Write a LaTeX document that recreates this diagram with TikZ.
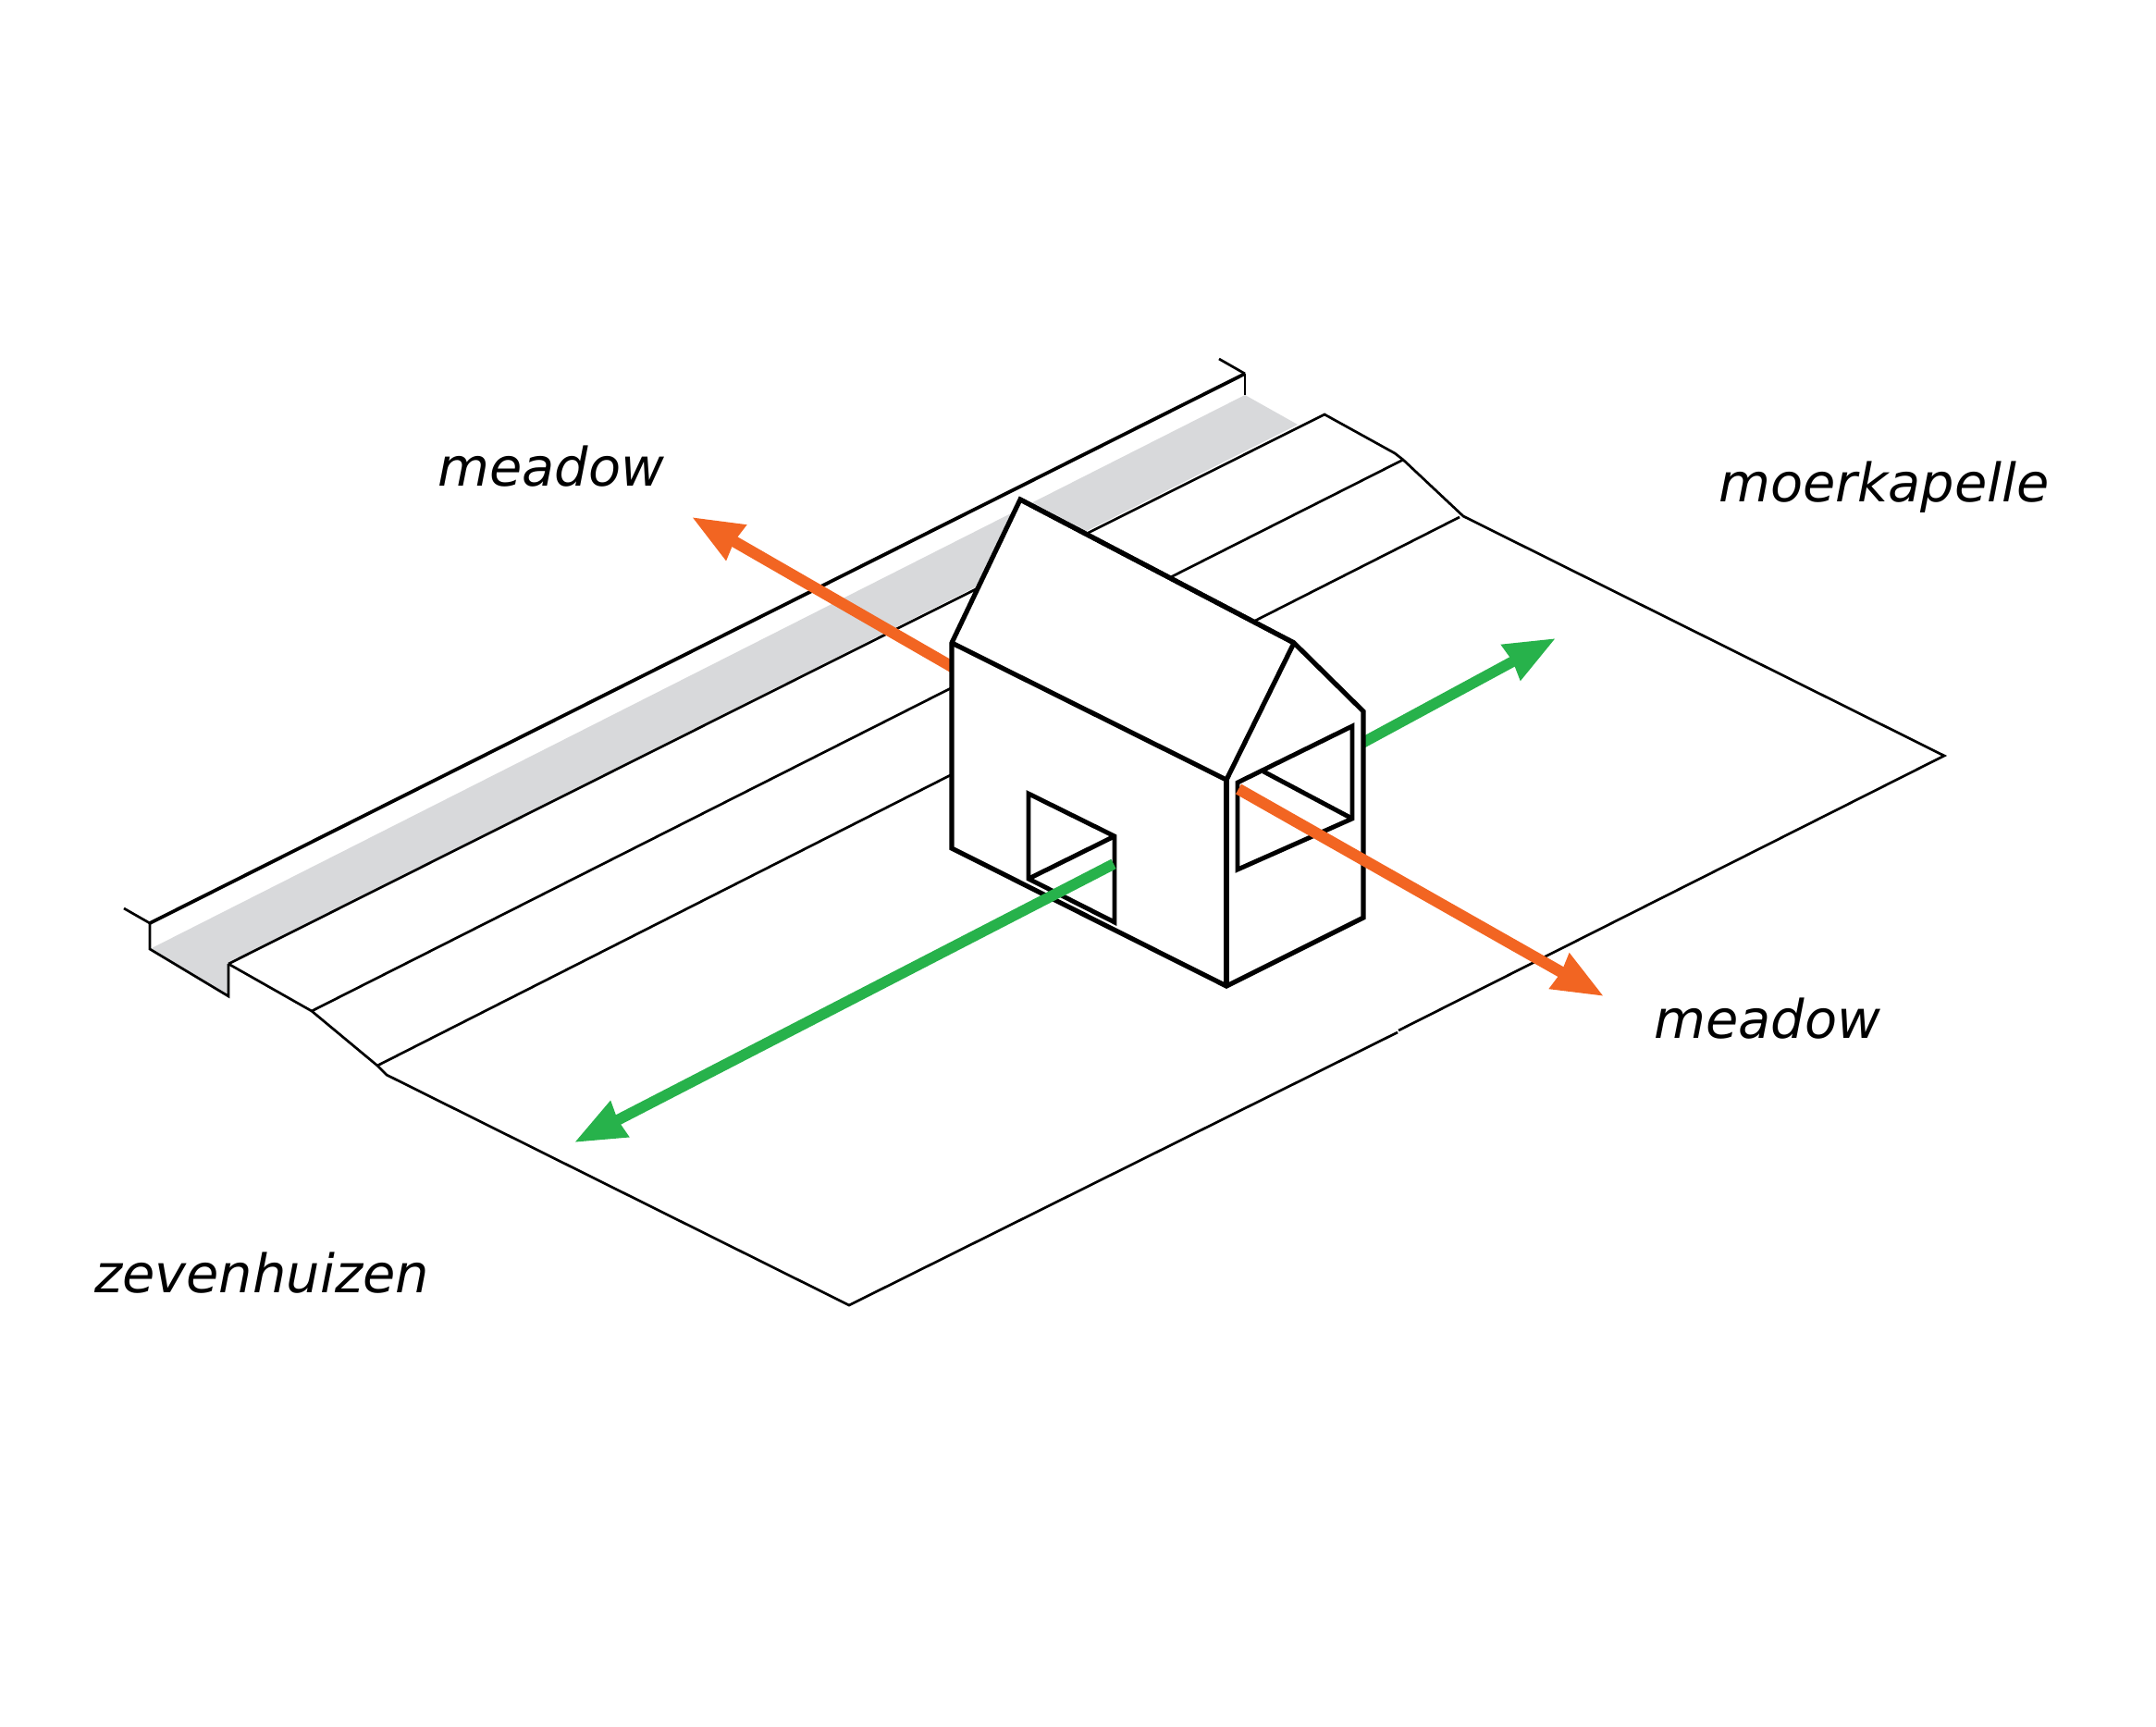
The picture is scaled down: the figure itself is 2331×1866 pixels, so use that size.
\documentclass[tikz,border=0pt]{standalone}
\usepackage{fontspec}
\setmainfont{DejaVu Sans}
\usetikzlibrary{arrows.meta}
\definecolor{arroworange}{HTML}{F26522}
\definecolor{arrowgreen}{HTML}{27B24B}
\definecolor{dikegrey}{HTML}{D8D9DB}
\tikzset{
  thinline/.style={draw=black,line width=2.3pt,line join=miter},
  midline/.style={draw=black,line width=3.2pt,line join=miter},
  houseline/.style={draw=black,line width=4.4pt,line join=miter,fill=white},
  winline/.style={draw=black,line width=4.2pt,line join=miter},
  orangearrow/.style={draw=arroworange,line width=10.5pt,-{Stealth[length=46pt,width=35pt,inset=1pt,fill=arroworange]}},
  greenarrow/.style={draw=arrowgreen,line width=10pt,-{Stealth[length=46pt,width=35pt,inset=1pt,fill=arrowgreen]}},
  placelabel/.style={anchor=base west,inner sep=0pt,font=\fontsize{49}{49}\selectfont\itshape},
}
\begin{document}
\begin{tikzpicture}[x=0.03cm,y=-0.03cm]
\useasboundingbox (0,0) rectangle (2331,1866);
% dike
\coordinate (dA) at (134,982);
\coordinate (dB) at (162,998);
\coordinate (dC) at (162,1026);
\coordinate (dD) at (247,1077);
\coordinate (dE) at (247,1042);
\coordinate (dF) at (1432,448);
\coordinate (dG) at (1403,459);
\coordinate (dH) at (1346,427);
\coordinate (dI) at (1346,404);
\coordinate (dJ) at (1318,388);
% profile and ground
\coordinate (pA) at (337,1093);
\coordinate (pB) at (408,1152);
\coordinate (pC) at (418,1162);
\coordinate (gA) at (918,1411);
\coordinate (gB) at (1511,1116);
\coordinate (gC) at (1512,1114);
\coordinate (gD) at (2102,817);
\coordinate (qA) at (1582,558);
\coordinate (qB) at (1517,497);
\coordinate (qC) at (1508,490);
\coordinate (qD) at (1578,559);
% house
\coordinate (hA) at (1029,695);
\coordinate (hB) at (1103,540);
\coordinate (hC) at (1399,695);
\coordinate (hD) at (1474,769);
\coordinate (hE) at (1474,992);
\coordinate (hF) at (1326,1066);
\coordinate (hG) at (1029,917);
\coordinate (hH) at (1326,843);
% arrows
\coordinate (oAs) at (1040,727);
\coordinate (oAe) at (748,559);
\coordinate (oBs) at (1339,853);
\coordinate (oBe) at (1734,1077);
\coordinate (gAs) at (1462,809);
\coordinate (gAe) at (1682,690);
\coordinate (gBs) at (1204,934);
\coordinate (gBe) at (621,1235);

\fill[dikegrey] (dC) -- (dD) -- (dE) -- (dG) -- (dH) -- cycle;
\draw[thinline] (dA) -- (dB);
\draw[midline] (dB) -- (dI);
\draw[thinline] (dI) -- (dJ);
\draw[thinline] (dI) -- (dH);
\draw[thinline] (dB) -- (dC) -- (dD) -- (dE);
\draw[thinline] (dE) -- (dF) -- (qC) -- (qB) -- (qA) -- (gD) -- (gC);
\draw[thinline] (gB) -- (gA) -- (pC) -- (pB) -- (pA) -- (dE);
\draw[thinline] (pA) -- (qB);
\draw[thinline] (pB) -- (qD);

\draw[orangearrow] (oAs) -- (oAe);
\draw[greenarrow] (gAs) -- (gAe);

\draw[houseline] (hA) -- (hB) -- (hC) -- (hD) -- (hE) -- (hF) -- (hG) -- cycle;
\draw[houseline,fill=none] (hA) -- (hH) -- (hC);
\draw[houseline,fill=none] (hH) -- (hF);
\draw[houseline,fill=none] (hB) -- (hC);

% left window
\coordinate (wA) at (1112,858);
\coordinate (wB) at (1205,904);
\coordinate (wC) at (1205,997);
\coordinate (wD) at (1112,950);
\draw[winline] (wA) -- (wB) -- (wC) -- (wD) -- cycle;
\draw[winline] (wD) -- (wB);
% right window
\coordinate (vA) at (1338,846);
\coordinate (vB) at (1462,785);
\coordinate (vC) at (1462,885);
\coordinate (vD) at (1338,940);
\coordinate (vE) at (1366,834);
\draw[winline] (vA) -- (vB) -- (vC) -- (vD) -- cycle;
\draw[winline] (vE) -- (vC);

\draw[orangearrow] (oBs) -- (oBe);
\draw[greenarrow] (gBs) -- (gBe);

\node[placelabel] (tA) at (473,525) {meadow};
\node[placelabel] (tB) at (1788,1122) {meadow};
\node[placelabel] (tC) at (1858,542) {moerkapelle};
\node[placelabel] (tD) at (102,1397) {zevenhuizen};
\end{tikzpicture}
\end{document}
